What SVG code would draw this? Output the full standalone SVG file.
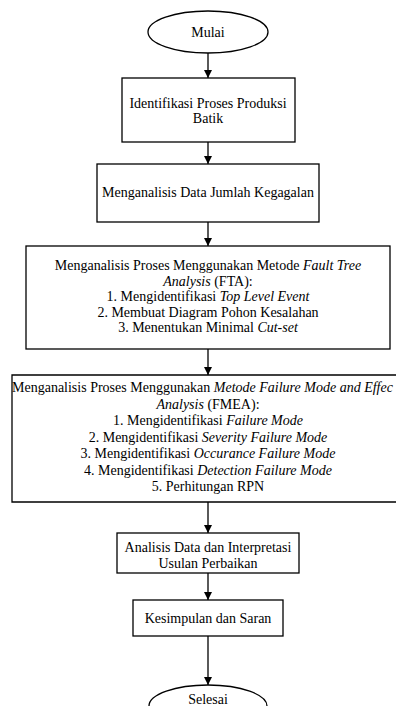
<svg xmlns="http://www.w3.org/2000/svg" width="396" height="706" viewBox="0 0 396 706">
<style>
.s{fill:#fff;stroke:#000;stroke-width:1.3}
.t{font-family:"Liberation Serif","Times New Roman",serif;font-size:14px;fill:#000;text-anchor:middle}
.i{font-style:italic}
.c{stroke:#000;stroke-width:1.3;fill:none}
</style>
<defs>
<marker id="ah" markerWidth="8" markerHeight="8" refX="8" refY="4" orient="auto" markerUnits="userSpaceOnUse">
<path d="M0,0 L8,4 L0,8 Z" fill="#000"/>
</marker>
</defs>
<rect width="396" height="706" fill="#fff"/>
<g id="connectors">
<line class="c" x1="208" y1="53" x2="208" y2="78" marker-end="url(#ah)"/>
<line class="c" x1="208" y1="142" x2="208" y2="164" marker-end="url(#ah)"/>
<line class="c" x1="208" y1="222" x2="208" y2="246" marker-end="url(#ah)"/>
<line class="c" x1="208" y1="349" x2="208" y2="375" marker-end="url(#ah)"/>
<line class="c" x1="208" y1="502" x2="208" y2="533" marker-end="url(#ah)"/>
<line class="c" x1="208" y1="573" x2="208" y2="600" marker-end="url(#ah)"/>
<line class="c" x1="208" y1="636" x2="208" y2="685" marker-end="url(#ah)"/>
</g>
<g id="mulai">
<ellipse class="s" cx="208" cy="32" rx="60" ry="21"/>
<text class="t" x="208" y="37">Mulai</text>
</g>
<g id="identifikasi">
<rect class="s" x="122" y="78" width="173" height="64"/>
<text class="t" x="208" y="108">Identifikasi Proses Produksi</text>
<text class="t" x="208" y="123">Batik</text>
</g>
<g id="data">
<rect class="s" x="97" y="164" width="222" height="58"/>
<text class="t" x="208" y="197">Menganalisis Data Jumlah Kegagalan</text>
</g>
<g id="fta">
<rect class="s" x="26" y="246" width="364" height="103"/>
<text class="t" x="208" y="270">Menganalisis Proses Menggunakan Metode <tspan class="i">Fault Tree</tspan></text>
<text class="t" x="208" y="285.5"><tspan class="i">Analysis</tspan> (FTA):</text>
<text class="t" x="208" y="301">1. Mengidentifikasi <tspan class="i">Top Level Event</tspan></text>
<text class="t" x="208" y="316.5">2. Membuat Diagram Pohon Kesalahan</text>
<text class="t" x="208" y="332">3. Menentukan Minimal <tspan class="i">Cut-set</tspan></text>
</g>
<g id="fmea">
<path class="s" d="M396,375 H12 V502 H396"/>
<text class="t" x="12" y="392" style="text-anchor:start">Menganalisis Proses Menggunakan <tspan class="i">Metode Failure Mode and Effec</tspan></text>
<text class="t" x="208" y="408.5"><tspan class="i">Analysis</tspan> (FMEA):</text>
<text class="t" x="208" y="425">1. Mengidentifikasi <tspan class="i">Failure Mode</tspan></text>
<text class="t" x="208" y="441.5">2. Mengidentifikasi <tspan class="i">Severity Failure Mode</tspan></text>
<text class="t" x="208" y="458">3. Mengidentifikasi <tspan class="i">Occurance Failure Mode</tspan></text>
<text class="t" x="208" y="474.5">4. Mengidentifikasi <tspan class="i">Detection Failure Mode</tspan></text>
<text class="t" x="208" y="491">5. Perhitungan RPN</text>
</g>
<g id="analisis">
<rect class="s" x="117" y="533" width="182" height="40"/>
<text class="t" x="208" y="552">Analisis Data dan Interpretasi</text>
<text class="t" x="208" y="568">Usulan Perbaikan</text>
</g>
<g id="kesimpulan">
<rect class="s" x="133" y="600" width="150" height="36"/>
<text class="t" x="208" y="623">Kesimpulan dan Saran</text>
</g>
<g id="selesai">
<path class="s" d="M149,706 A59,21 0 0 1 267,706"/>
<text class="t" x="208" y="704">Selesai</text>
</g>
</svg>
